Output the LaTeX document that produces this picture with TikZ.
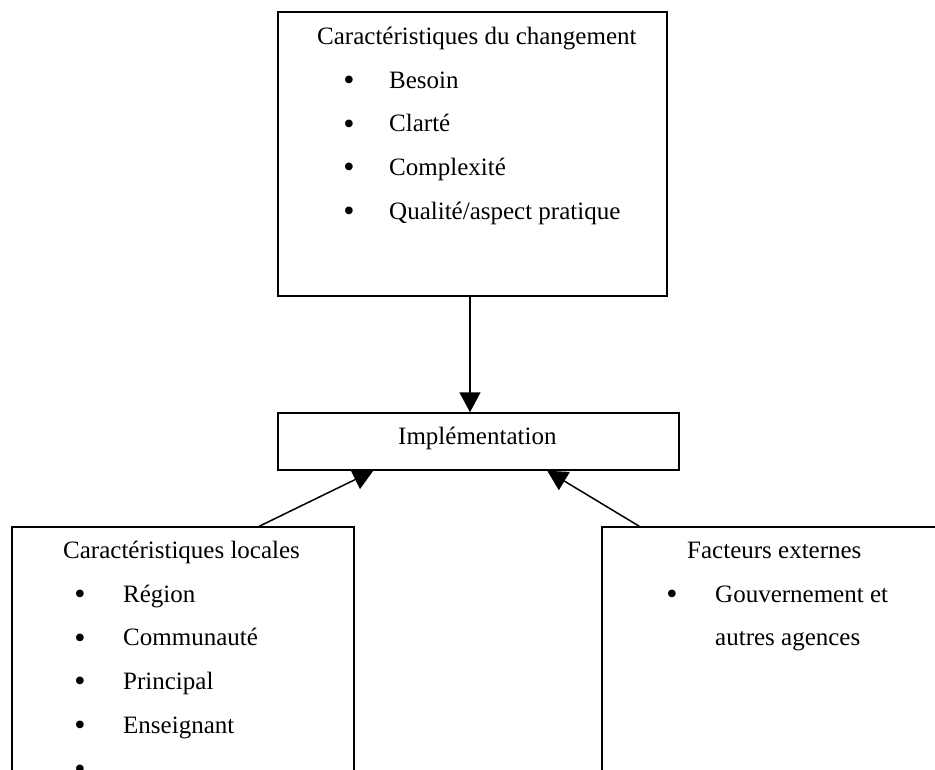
\documentclass[tikz,border=0pt]{standalone}
\usepackage{fontspec}
\setmainfont{Liberation Serif}
\usetikzlibrary{arrows.meta,calc}
\begin{document}
\begin{tikzpicture}[x=1pt,y=-1pt,
  box/.style={draw=black, line width=1.5pt, inner sep=0pt},
  txt/.style={anchor=base west, inner sep=0pt, font=\fontsize{25}{30}\selectfont},
  bul/.style={anchor=base, inner sep=0pt, yshift=-2.5pt, font=\fontsize{32}{36}\selectfont},
  link/.style={line width=1.5pt, -{Triangle[length=20pt,width=21pt]}}]
  \useasboundingbox (0,0) rectangle (935,769);
  \clip (0,0) rectangle (935,769);

  % boxes
  \node[box, minimum width=389pt, minimum height=284pt] (chg) at (472.5,154) {};
  \node[box, minimum width=401pt, minimum height=57pt] (impl) at (478.5,441.5) {};
  \node[box, minimum width=342pt, minimum height=313pt] (loc) at (183,683.5) {};
  \node[box, minimum width=378pt, minimum height=313pt] (ext) at (791,683.5) {};

  % characteristics of the change
  \node[txt] (chgT) at (317,44) {Caractéristiques du changement};
  \node[bul] (b1) at (349,88) {•};
  \node[txt] (t1) at (389,88) {Besoin};
  \node[bul] (b2) at (349,131.5) {•};
  \node[txt] (t2) at (389,131.5) {Clarté};
  \node[bul] (b3) at (349,175) {•};
  \node[txt] (t3) at (389,175) {Complexité};
  \node[bul] (b4) at (349,219) {•};
  \node[txt] (t4) at (389,219) {Qualité/aspect pratique};

  % implementation
  \node[txt] (implT) at (398,444) {Implémentation};

  % local characteristics
  \node[txt] (locT) at (63,558) {Caractéristiques locales};
  \node[bul] (l1) at (80,602) {•};
  \node[txt] (lt1) at (123,602) {Région};
  \node[bul] (l2) at (80,645.5) {•};
  \node[txt] (lt2) at (123,645.5) {Communauté};
  \node[bul] (l3) at (80,689) {•};
  \node[txt] (lt3) at (123,689) {Principal};
  \node[bul] (l4) at (80,733) {•};
  \node[txt] (lt4) at (123,733) {Enseignant};
  \node[bul] (l5) at (80,777) {•};

  % external factors
  \node[txt] (extT) at (687,558) {Facteurs externes};
  \node[bul] (e1) at (672,602) {•};
  \node[txt] (et1) at (715,602) {Gouvernement et};
  \node[txt] (et2) at (715,645.5) {autres agences};

  % connectors
  \coordinate (chgOut) at ($(chg.south)+(-2.5,0)$);
  \draw[link] (chgOut) -- (chgOut |- impl.north);
  \draw[link] ($(loc.north west)+(248,0)$) -- ($(impl.south west)+(96,0)$);
  \draw[link] ($(ext.north west)+(38,0)$) -- ($(impl.south west)+(270,0)$);
\end{tikzpicture}
\end{document}
